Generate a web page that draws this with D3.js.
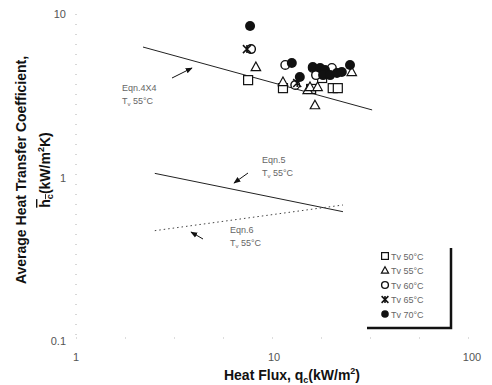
<!DOCTYPE html>
<meta charset="utf-8">
<script src="https://d3js.org/d3.v7.min.js"></script>
<style>
body { margin: 0; background: #fff; }
text { font-family: "Liberation Sans", Arial, sans-serif; }
.tick-label { font-size: 11px; fill: #555; }
.note { font-size: 9px; fill: #666; }
.axis-title { font-size: 14px; font-weight: bold; fill: #111; }
</style>
<div id="chart"></div>
<script>
// heat flux q (kW/m2), heat transfer coefficient h (kW/m2K)
const tv50 = [[7.4, 3.94], [11.1, 3.52], [15.4, 3.48], [17.5, 4.06], [19.8, 3.52], [21.0, 3.52]];
const tv55 = [[8.1, 4.74], [11.1, 3.84], [14.8, 3.43], [15.2, 3.58], [16.6, 3.58], [16.1, 2.77], [24.7, 4.42]];
const tv60 = [[7.66, 6.1], [11.4, 4.88], [12.8, 3.68], [15.7, 4.68], [16.3, 4.23], [19.6, 4.68]];
const tv65 = [[7.3, 6.1], [13.1, 3.78]];
const tv70 = [[7.57, 8.45], [12.3, 5.01], [13.5, 4.12], [15.7, 4.74], [17.1, 4.68], [18.1, 4.55],
              [17.7, 4.23], [19.2, 4.23], [20.8, 4.36], [22.0, 4.42], [24.2, 4.88]];

const eqn4x4 = [[2.18, 6.28], [31.3, 2.59]];
const eqn5 = [[2.5, 1.06], [22.3, 0.618]];
const eqn6 = [[2.5, 0.473], [22.3, 0.679]];

const xTicks = [1, 10, 100];
const yTicks = [0.1, 1, 10];
const legendLabels = ["Tv  50\u00B0C", "Tv  55\u00B0C", "Tv  60\u00B0C", "Tv  65\u00B0C", "Tv  70\u00B0C"];

const W = 492, H = 385;
const svg = d3.select("#chart").append("svg").attr("width", W).attr("height", H);

const x = d3.scaleLog().domain([1, 100]).range([76, 472]);
const y = d3.scaleLog().domain([0.1, 10]).range([341, 14]);

// faint dotted axes, as in the scanned figure
svg.append("line").attr("x1", 76).attr("x2", 76).attr("y1", y(10)).attr("y2", y(0.1))
  .attr("stroke", "#999").attr("stroke-width", 0.8).attr("stroke-dasharray", "1,9");
svg.append("line").attr("x1", x(1)).attr("x2", x(100)).attr("y1", 338).attr("y2", 338)
  .attr("stroke", "#aaa").attr("stroke-width", 0.8).attr("stroke-dasharray", "1,48");

// tick labels
svg.selectAll(".yl").data(yTicks).enter().append("text")
  .attr("class", "tick-label").attr("x", 66).attr("y", d => y(d) + 4)
  .attr("text-anchor", "end").text(d => d);
svg.selectAll(".xl").data(xTicks).enter().append("text")
  .attr("class", "tick-label").attr("x", d => x(d)).attr("y", 361)
  .attr("text-anchor", "middle").text(d => d);

// correlation lines
const line = d3.line().x(d => x(d[0])).y(d => y(d[1]));
svg.append("path").datum(eqn4x4).attr("d", line).attr("fill", "none").attr("stroke", "#222").attr("stroke-width", 1);
svg.append("path").datum(eqn5).attr("d", line).attr("fill", "none").attr("stroke", "#222").attr("stroke-width", 1);
svg.append("path").datum(eqn6).attr("d", line).attr("fill", "none").attr("stroke", "#444")
  .attr("stroke-width", 1).attr("stroke-dasharray", "1.5,3");

// arrow heads
svg.append("defs").append("marker").attr("id", "ah")
  .attr("viewBox", "0 0 10 10").attr("refX", 9).attr("refY", 5)
  .attr("markerWidth", 7).attr("markerHeight", 7).attr("orient", "auto")
  .append("path").attr("d", "M0,1L10,5L0,9Z").attr("fill", "#111");

const arrows = [[172, 78, 192, 68], [248, 173, 234, 183], [203, 239, 191, 232]];
svg.selectAll(".arr").data(arrows).enter().append("line")
  .attr("x1", d => d[0]).attr("y1", d => d[1]).attr("x2", d => d[2]).attr("y2", d => d[3])
  .attr("stroke", "#111").attr("stroke-width", 1).attr("marker-end", "url(#ah)");

const notes = [["Eqn.4X4", 122, 91], ["Eqn.5", 262, 163], ["Eqn.6", 230, 233]];
notes.forEach(n => {
  svg.append("text").attr("class", "note").attr("x", n[1]).attr("y", n[2]).text(n[0]);
  const t = svg.append("text").attr("class", "note").attr("x", n[1]).attr("y", n[2] + 13);
  t.append("tspan").text("T");
  t.append("tspan").attr("font-size", 6).attr("dy", 2).text("v");
  t.append("tspan").attr("dy", -2).text(" 55\u00B0C");
});

// markers
const sym = {
  square: (g, r) => g.append("rect").attr("x", -r).attr("y", -r).attr("width", 2 * r).attr("height", 2 * r)
    .attr("fill", "#fff").attr("stroke", "#111").attr("stroke-width", 1.2),
  triangle: (g, r) => g.append("path").attr("d", `M0,${-r * 1.1}L${r * 1.05},${r * 0.8}L${-r * 1.05},${r * 0.8}Z`)
    .attr("fill", "#fff").attr("stroke", "#111").attr("stroke-width", 1.2),
  circle: (g, r) => g.append("circle").attr("r", r).attr("fill", "#fff").attr("stroke", "#111").attr("stroke-width", 1.4),
  star: (g, r) => g.append("path")
    .attr("d", `M${-r},${-r}L${r},${r}M${-r},${r}L${r},${-r}M0,${-r}L0,${r}`)
    .attr("stroke", "#111").attr("stroke-width", 1.5),
  dot: (g, r) => g.append("circle").attr("r", r).attr("fill", "#111")
};

const series = [
  { data: tv50, s: "square", r: 4.5 },
  { data: tv55, s: "triangle", r: 4.5 },
  { data: tv60, s: "circle", r: 4.3 },
  { data: tv65, s: "star", r: 4 },
  { data: tv70, s: "dot", r: 5 }
];

series.forEach(se => {
  se.data.forEach(d => {
    const g = svg.append("g").attr("transform", `translate(${x(d[0])},${y(d[1])})`);
    sym[se.s](g, se.r);
  });
});

// legend
const lg = svg.append("g");
lg.append("path").attr("d", "M367,328H451V248").attr("fill", "none").attr("stroke", "#111").attr("stroke-width", 2.5);
series.forEach((se, i) => {
  const yy = 256 + i * 14.5;
  const g = lg.append("g").attr("transform", `translate(385,${yy})`);
  sym[se.s](g, se.s === "dot" ? 3.8 : 3.4);
  lg.append("text").attr("class", "note").attr("x", 391).attr("y", yy + 3.5).text(legendLabels[i]);
});

// axis titles
svg.append("text").attr("class", "axis-title").attr("x", 292).attr("y", 380).attr("text-anchor", "middle")
  .call(t => {
    t.append("tspan").text("Heat Flux, q");
    t.append("tspan").attr("font-size", 9).attr("dy", 3).text("c");
    t.append("tspan").attr("dy", -3).text("(kW/m");
    t.append("tspan").attr("font-size", 9).attr("dy", -6).text("2");
    t.append("tspan").attr("dy", 6).text(")");
  });

const yt = svg.append("g").attr("transform", "translate(0,0)");
yt.append("text").attr("class", "axis-title").attr("text-anchor", "middle")
  .attr("transform", "translate(26,170) rotate(-90)").text("Average Heat Transfer Coefficient,");
const yt2 = yt.append("text").attr("class", "axis-title").attr("text-anchor", "middle")
  .attr("transform", "translate(50,170) rotate(-90)");
yt2.append("tspan").attr("text-decoration", "overline").text("h");
yt2.append("tspan").attr("font-size", 9).attr("dy", 3).attr("text-decoration", "overline").text("c");
yt2.append("tspan").attr("dy", -3).text("(kW/m");
yt2.append("tspan").attr("font-size", 9).attr("dy", -6).text("2");
yt2.append("tspan").attr("dy", 6).text("K)");
</script>
